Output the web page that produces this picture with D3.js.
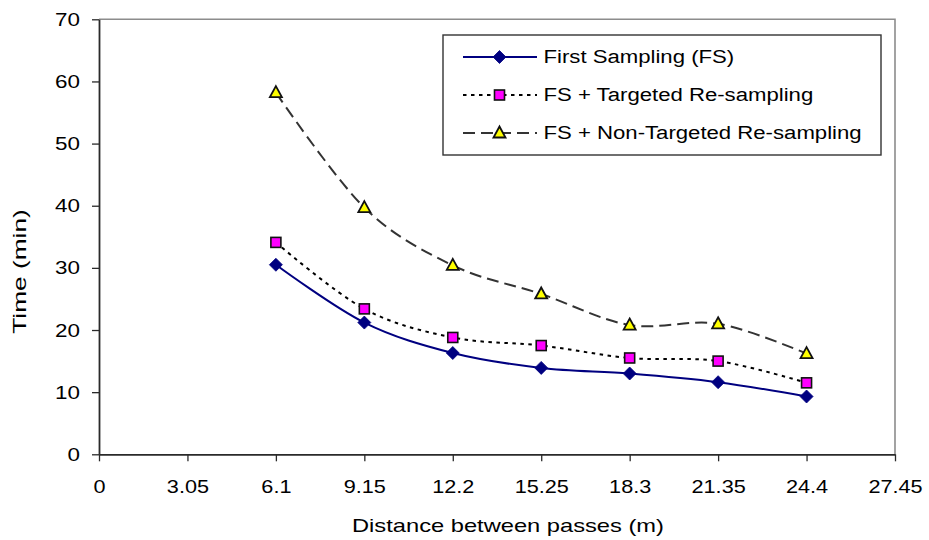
<!DOCTYPE html>
<html>
<head>
<meta charset="utf-8">
<script src="https://cdn.jsdelivr.net/npm/d3@7"></script>
<style>
  html, body { margin: 0; padding: 0; background: #fff; }
  svg { display: block; }
  text { font-family: "Liberation Sans", Arial, sans-serif; fill: #000; }
</style>
</head>
<body>
<svg id="chart" width="929" height="540"></svg>
<script>
// Distance between passes (m)
const distances = [6.1, 9.15, 12.2, 15.25, 18.3, 21.35, 24.4];
// Time (min) per sampling strategy
const firstSampling      = [30.5, 21.2, 16.3, 13.9, 13.0, 11.6, 9.3];
const targetedResampling = [34.1, 23.4, 18.8, 17.5, 15.5, 15.0, 11.5];
const nonTargetedResampling = [58.2, 39.7, 30.4, 25.8, 20.8, 21.0, 16.2];

const seriesNames = ["First Sampling (FS)", "FS + Targeted Re-sampling", "FS + Non-Targeted Re-sampling"];
const xTickValues = [0, 3.05, 6.1, 9.15, 12.2, 15.25, 18.3, 21.35, 24.4, 27.45];
const xTickLabels = ["0", "3.05", "6.1", "9.15", "12.2", "15.25", "18.3", "21.35", "24.4", "27.45"];
const yTickValues = [0, 10, 20, 30, 40, 50, 60, 70];
const xTitle = "Distance between passes (m)";
const yTitle = "Time (min)";

const svg = d3.select("#chart");
const plot = { left: 99, right: 895, top: 19.3, bottom: 454.3 };

const x = d3.scaleLinear().domain([0, 27.45]).range([plot.left, plot.right]);
const y = d3.scaleLinear().domain([0, 70]).range([plot.bottom, plot.top]);

// the original renderer draws glyphs a little wider than Arial's metrics
function widen(sel, factor) {
  sel.each(function () {
    const w = this.getComputedTextLength();
    d3.select(this).attr("textLength", w * factor).attr("lengthAdjust", "spacingAndGlyphs");
  });
}

// plot-area frame (top and right edges)
svg.append("path")
  .attr("d", `M${plot.left},${plot.top}H${plot.right}V${plot.bottom}`)
  .attr("fill", "none").attr("stroke", "#8c8c8c").attr("stroke-width", 1.6);

// axes
const xAxis = svg.append("g")
  .attr("transform", `translate(0,${plot.bottom})`)
  .call(d3.axisBottom(x).tickValues(xTickValues)
    .tickFormat((d, i) => xTickLabels[i]).tickSize(7).tickPadding(18.5).tickSizeOuter(0));
const yAxis = svg.append("g")
  .attr("transform", `translate(${plot.left},0)`)
  .call(d3.axisLeft(y).tickValues(yTickValues).tickFormat(d3.format("d"))
    .tickSize(7).tickPadding(12).tickSizeOuter(0));

[xAxis, yAxis].forEach(g => {
  g.select(".domain").attr("stroke", "#2a2a2a").attr("stroke-width", 1.8);
  g.selectAll(".tick line").attr("stroke", "#2a2a2a").attr("stroke-width", 1.3);
  g.selectAll("text").attr("font-size", 19).attr("fill", "#000")
    .style("font-family", '"Liberation Sans", Arial, sans-serif');
});
widen(xAxis.selectAll("text"), 1.14);
widen(yAxis.selectAll("text"), 1.18);

// axis titles
svg.append("text").attr("x", 508).attr("y", 532)
  .attr("text-anchor", "middle").attr("font-size", 18.5).text(xTitle)
  .call(widen, 1.28);
svg.append("text").attr("transform", "translate(26,271.5) rotate(-90)")
  .attr("text-anchor", "middle").attr("font-size", 18.5).text(yTitle)
  .call(widen, 1.42);

// series definitions
const series = [
  { name: seriesNames[0], values: firstSampling, stroke: "#000080", dash: null, marker: "diamond" },
  { name: seriesNames[1], values: targetedResampling, stroke: "#000", dash: "3.5,4.5", marker: "square" },
  { name: seriesNames[2], values: nonTargetedResampling, stroke: "#333", dash: "12,6", marker: "triangle" }
];

const line = d3.line()
  .x(d => x(d[0])).y(d => y(d[1]))
  .curve(d3.curveCatmullRom.alpha(0));

function drawMarker(g, type, cx, cy) {
  if (type === "diamond") {
    g.append("path").attr("d", `M${cx},${cy - 6.5}L${cx + 6.5},${cy}L${cx},${cy + 6.5}L${cx - 6.5},${cy}Z`)
      .attr("fill", "#000080").attr("stroke", "#000080").attr("stroke-width", 0.8);
  } else if (type === "square") {
    g.append("rect").attr("x", cx - 5).attr("y", cy - 5).attr("width", 10).attr("height", 10)
      .attr("fill", "#ff00ff").attr("stroke", "#111").attr("stroke-width", 1.6);
  } else {
    g.append("path").attr("d", `M${cx},${cy - 6.5}L${cx + 6},${cy + 4.5}L${cx - 6},${cy + 4.5}Z`)
      .attr("fill", "#ffff00").attr("stroke", "#111").attr("stroke-width", 1.8)
      .attr("stroke-linejoin", "miter");
  }
}

// draw lines first, then markers on top
series.forEach(s => {
  const pts = distances.map((d, i) => [d, s.values[i]]);
  svg.append("path").datum(pts)
    .attr("d", line)
    .attr("fill", "none")
    .attr("stroke", s.stroke)
    .attr("stroke-width", 2)
    .attr("stroke-dasharray", s.dash);
});
series.forEach(s => {
  const g = svg.append("g");
  distances.forEach((d, i) => drawMarker(g, s.marker, x(d), y(s.values[i])));
});

// legend
const legend = svg.append("g");
legend.append("rect").attr("x", 443).attr("y", 35).attr("width", 438).attr("height", 120)
  .attr("fill", "#fff").attr("stroke", "#333").attr("stroke-width", 1.4);
series.forEach((s, i) => {
  const cy = 57 + i * 38;
  legend.append("line").attr("x1", 463).attr("x2", 537).attr("y1", cy).attr("y2", cy)
    .attr("stroke", s.stroke).attr("stroke-width", 2).attr("stroke-dasharray", s.dash);
  drawMarker(legend, s.marker, 499.5, cy);
  legend.append("text").attr("x", 543.5).attr("y", cy + 5.5)
    .attr("font-size", 18).text(s.name).call(widen, 1.23);
});
</script>
</body>
</html>
